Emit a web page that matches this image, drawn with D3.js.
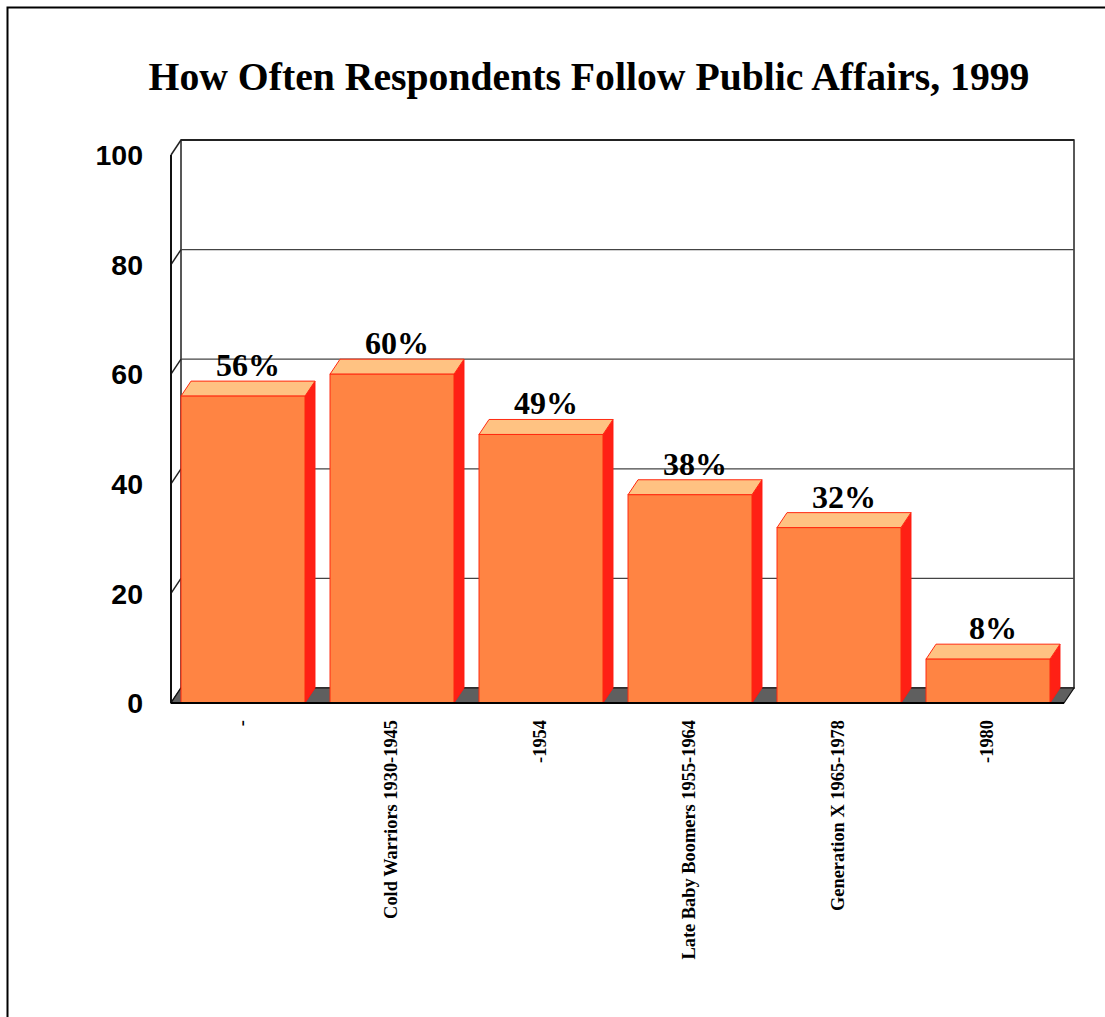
<!DOCTYPE html>
<html>
<head>
<meta charset="utf-8">
<script src="https://cdn.jsdelivr.net/npm/d3@7"></script>
<style>
  body { margin: 0; background: #fff; }
  svg { display: block; }
</style>
</head>
<body>
<div id="chart"></div>
<script>
var svgWidth = 1105;
var svgHeight = 1017;

// data
var categories = ["-", "Cold Warriors 1930-1945", "-1954", "Late Baby Boomers 1955-1964", "Generation X 1965-1978", "-1980"];
var values = [56, 60, 49, 38, 32, 8];
var valueLabels = ["56%", "60%", "49%", "38%", "32%", "8%"];
var yTicks = [0, 20, 40, 60, 80, 100];

// depth offset of the 3D box
var dx = 10, dy = -15;

var svg = d3.select("#chart")
  .append("svg")
  .attr("width", svgWidth)
  .attr("height", svgHeight);

// outer frame
svg.append("rect")
  .attr("x", 7.5).attr("y", 7.5)
  .attr("width", 1120).attr("height", 1030)
  .attr("fill", "none")
  .attr("stroke", "#000")
  .attr("stroke-width", 2);

// title
svg.append("text")
  .attr("x", 589)
  .attr("y", 90)
  .attr("text-anchor", "middle")
  .style("font-family", "'Liberation Serif', 'Times New Roman', serif")
  .style("font-weight", "bold")
  .style("font-size", "39.7px")
  .text("How Often Respondents Follow Public Affairs, 1999");

var x0 = 171, x1 = 1064;

var xScale = d3.scaleBand()
  .domain(categories)
  .range([168.5, 1062.5])
  .paddingInner(0.168)
  .paddingOuter(0.084);

var yScale = d3.scaleLinear()
  .domain([0, 100])
  .range([703, 155]);

// back wall
svg.append("rect")
  .attr("x", x0 + dx).attr("y", yScale(100) + dy)
  .attr("width", x1 - x0).attr("height", yScale(0) - yScale(100))
  .attr("fill", "#fff")
  .attr("stroke", "#222")
  .attr("stroke-width", 1.5);

// gridlines on back wall and side wall
var grid = svg.append("g");
yTicks.forEach(function(t) {
  var y = yScale(t);
  grid.append("line")
    .attr("x1", x0 + dx).attr("x2", x1 + dx)
    .attr("y1", y + dy).attr("y2", y + dy)
    .attr("stroke", t === 100 ? "#222" : "#444")
    .attr("stroke-width", t === 100 ? 2 : 1.2);
  grid.append("line")
    .attr("x1", x0).attr("x2", x0 + dx)
    .attr("y1", y).attr("y2", y + dy)
    .attr("stroke", "#222")
    .attr("stroke-width", 1.5);
});

// side wall verticals
svg.append("line")
  .attr("x1", x0).attr("x2", x0)
  .attr("y1", yScale(100)).attr("y2", yScale(0))
  .attr("stroke", "#111").attr("stroke-width", 2);

// floor
var floorPts = [[x0, yScale(0)], [x1, yScale(0)], [x1 + dx, yScale(0) + dy], [x0 + dx, yScale(0) + dy]];
svg.append("polygon")
  .attr("points", floorPts.map(function(p) { return p.join(","); }).join(" "))
  .attr("fill", "#5f5f5f")
  .attr("stroke", "#111")
  .attr("stroke-width", 1.2);

// floor footprint lines of each bar
svg.selectAll(".foot")
  .data(categories)
  .enter()
  .append("line")
  .attr("x1", function(d) { return xScale(d); })
  .attr("y1", yScale(0))
  .attr("x2", function(d) { return xScale(d) + dx; })
  .attr("y2", yScale(0) + dy)
  .attr("stroke", "#222")
  .attr("stroke-width", 1);

// bars
var bars = svg.selectAll(".bar")
  .data(values)
  .enter()
  .append("g")
  .attr("class", "bar");

function pts(arr) { return arr.map(function(p) { return p.join(","); }).join(" "); }

// side face
bars.append("polygon")
  .attr("points", function(d, i) {
    var xr = xScale(categories[i]) + xScale.bandwidth();
    var yt = yScale(d), yb = yScale(0);
    return pts([[xr, yt], [xr + dx, yt + dy], [xr + dx, yb + dy], [xr, yb]]);
  })
  .attr("fill", "#ff2015")
  .attr("stroke", "#ff1a10")
  .attr("stroke-width", 1);

// top face
bars.append("polygon")
  .attr("points", function(d, i) {
    var xl = xScale(categories[i]), xr = xl + xScale.bandwidth();
    var yt = yScale(d);
    return pts([[xl, yt], [xr, yt], [xr + dx, yt + dy], [xl + dx, yt + dy]]);
  })
  .attr("fill", "#ffc282")
  .attr("stroke", "#ff2a10")
  .attr("stroke-width", 1);

// front face
bars.append("rect")
  .attr("x", function(d, i) { return xScale(categories[i]); })
  .attr("y", function(d) { return yScale(d); })
  .attr("width", xScale.bandwidth())
  .attr("height", function(d) { return yScale(0) - yScale(d); })
  .attr("fill", "#ff8443")
  .attr("stroke", "#ff2a10")
  .attr("stroke-width", 1);

// front floor edge
svg.append("line")
  .attr("x1", x0).attr("x2", x1)
  .attr("y1", yScale(0)).attr("y2", yScale(0))
  .attr("stroke", "#000").attr("stroke-width", 2);

// value labels
svg.selectAll(".vlabel")
  .data(values)
  .enter()
  .append("text")
  .attr("x", function(d, i) { return xScale(categories[i]) + xScale.bandwidth() / 2 + dx / 2; })
  .attr("y", function(d) { return yScale(d) + dy - 5; })
  .attr("text-anchor", "middle")
  .style("font-family", "'Liberation Serif', 'Times New Roman', serif")
  .style("font-weight", "bold")
  .style("font-size", "32px")
  .text(function(d, i) { return valueLabels[i]; });

// y tick labels
svg.selectAll(".ytick")
  .data(yTicks)
  .enter()
  .append("text")
  .attr("x", 143)
  .attr("y", function(d) { return yScale(d); })
  .attr("dy", "0.36em")
  .attr("text-anchor", "end")
  .style("font-family", "'Liberation Sans', Arial, sans-serif")
  .style("font-weight", "bold")
  .style("font-size", "28.5px")
  .text(function(d) { return d; });

// x category labels, rotated
svg.selectAll(".xlabel")
  .data(categories)
  .enter()
  .append("text")
  .attr("transform", function(d) {
    var cx = xScale(d) + xScale.bandwidth() / 2 - 1;
    return "translate(" + cx + ",720) rotate(-90)";
  })
  .attr("dy", "0.35em")
  .attr("text-anchor", "end")
  .style("font-family", "'Liberation Serif', 'Times New Roman', serif")
  .style("font-weight", "bold")
  .style("font-size", "18.4px")
  .text(function(d) { return d; });
</script>
</body>
</html>
